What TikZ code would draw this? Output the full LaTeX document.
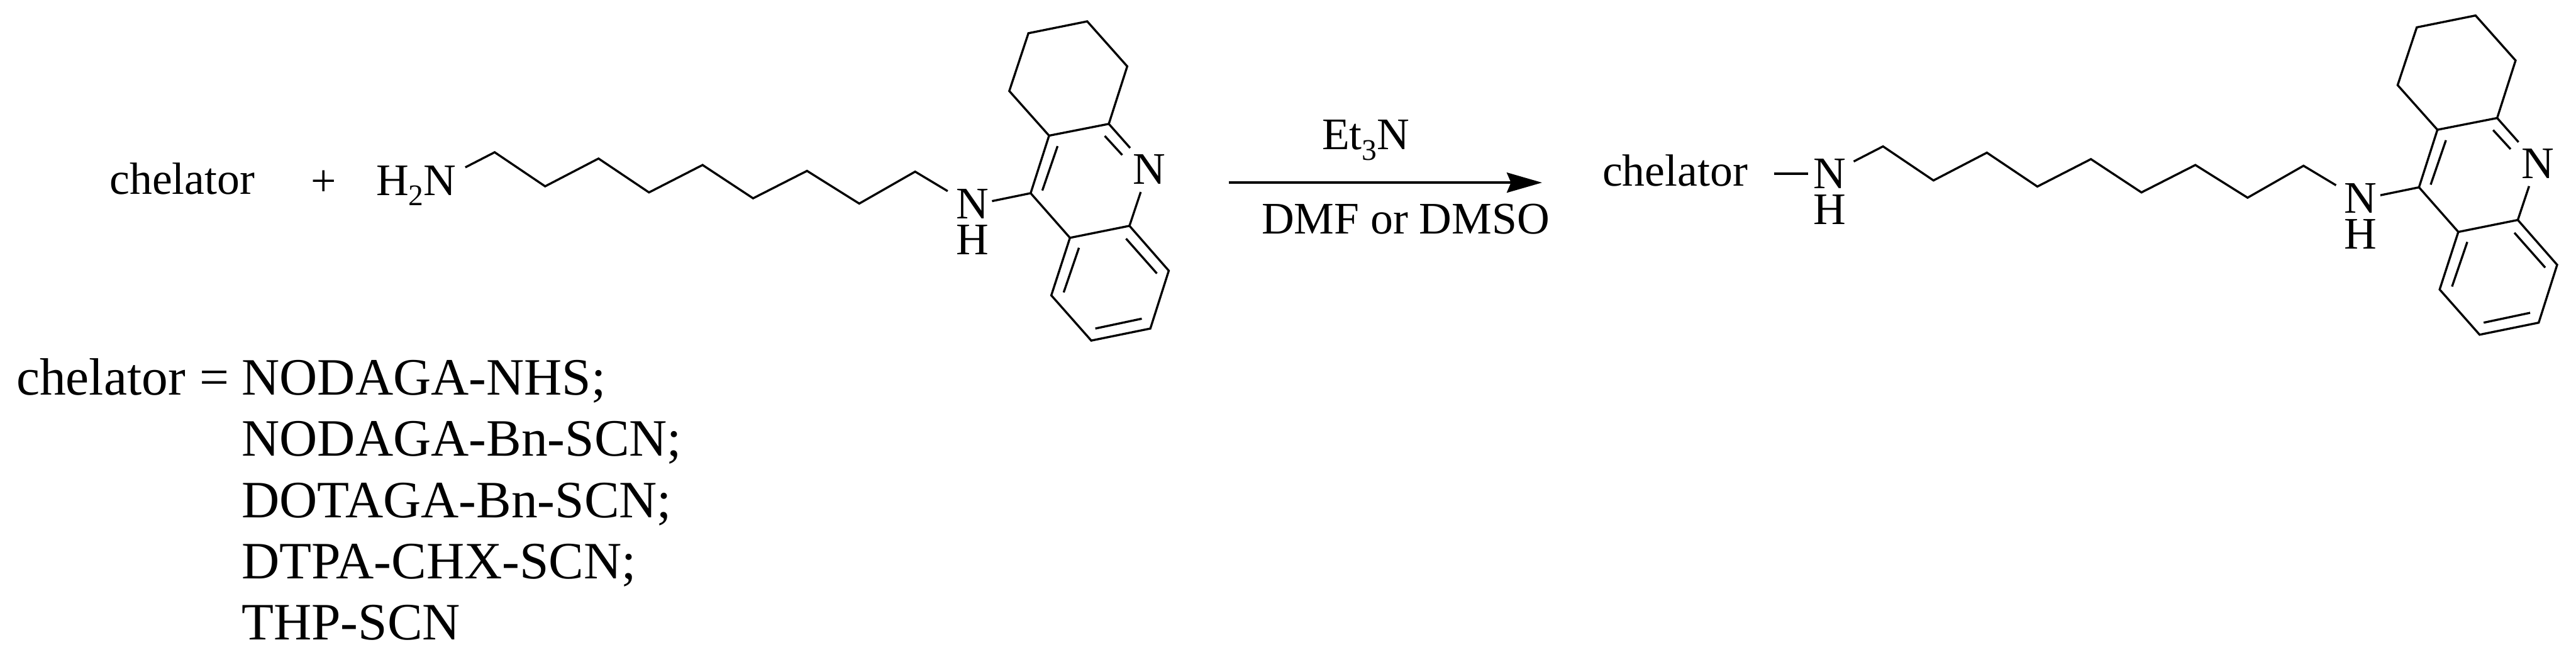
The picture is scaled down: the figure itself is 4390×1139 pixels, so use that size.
\documentclass[tikz,border=0pt]{standalone}
\usepackage{fontspec}
\setmainfont{Liberation Serif}
\usetikzlibrary{arrows.meta}
\newcommand{\lowidx}[1]{\raisebox{-8.75pt}{\fontsize{25.5}{25.5}\selectfont #1}}
\tikzset{
  bond/.style={line width=1.8pt,line join=miter,line cap=butt,black},
  rxn/.style={line width=2.4pt,black,-{Stealth[length=30pt,width=17pt,inset=3.5pt]}},
  lab/.style={inner sep=0pt,outer sep=0pt,anchor=base,font=\fontsize{38.4}{38.4}\selectfont},
  labw/.style={lab,anchor=base west},
  stack/.style={inner sep=0pt,outer sep=0pt,anchor=center,align=center,font=\fontsize{38.4}{30.5}\selectfont},
  big/.style={inner sep=0pt,outer sep=0pt,anchor=base west,font=\fontsize{44.7}{44.7}\selectfont},
  amine/.pic={
    % chain
    \coordinate (c0) at (793,285);
    \coordinate (p1) at (843,259.3);
    \coordinate (t1) at (929,317.3);
    \coordinate (p2) at (1020,270);
    \coordinate (t2) at (1106,327.7);
    \coordinate (p3) at (1197.3,281);
    \coordinate (t3) at (1283.4,337.7);
    \coordinate (p4) at (1375.3,291);
    \coordinate (t4) at (1464.3,346.7);
    \coordinate (p5) at (1559.6,292.3);
    \coordinate (c1) at (1615,325.5);
    % rings
    \coordinate (a) at (1752.6,56.6);
    \coordinate (b) at (1852.8,36.4);
    \coordinate (c) at (1921,113);
    \coordinate (d) at (1889.6,211);
    \coordinate (e) at (1787.8,231);
    \coordinate (f) at (1720,155);
    \coordinate (g) at (1756.4,329);
    \coordinate (h) at (1924.8,384.6);
    \coordinate (i) at (1823.4,405);
    \coordinate (j) at (1991.8,461);
    \coordinate (k) at (1960.4,559.5);
    \coordinate (l) at (1859.7,580);
    \coordinate (m) at (1791.6,503);
    % label-side bond ends
    \coordinate (gn) at (1690.6,342.5);
    \coordinate (dn) at (1926,252);
    \coordinate (hn) at (1944,327);
    % inner double-bond lines
    \coordinate (d1) at (1882.7,231.5);
    \coordinate (d2) at (1912.5,264);
    \coordinate (e1) at (1802.3,248.8);
    \coordinate (e2) at (1776.3,324.5);
    \coordinate (i1) at (1838.7,422);
    \coordinate (i2) at (1812.7,498);
    \coordinate (h1) at (1919,406.4);
    \coordinate (h2) at (1971.5,465.7);
    \coordinate (k1) at (1945.8,542.7);
    \coordinate (k2) at (1866.6,559.5);
    \node[stack] (nh) at (1657,378) {N\\H};
    \node[lab] (nr) at (1958.5,314) {N};
    \draw[bond] (c0) -- (p1) -- (t1) -- (p2) -- (t2) -- (p3) -- (t3) -- (p4) -- (t4) -- (p5) -- (c1);
    \draw[bond] (gn) -- (g) -- (e) -- (f) -- (a) -- (b) -- (c) -- (d) -- (e);
    \draw[bond] (d) -- (dn);
    \draw[bond] (hn) -- (h) -- (i) -- (g);
    \draw[bond] (h) -- (j) -- (k) -- (l) -- (m) -- (i);
    \draw[bond] (d1) -- (d2);
    \draw[bond] (e1) -- (e2);
    \draw[bond] (i1) -- (i2);
    \draw[bond] (h1) -- (h2);
    \draw[bond] (k1) -- (k2);
  }
}
\begin{document}
\begin{tikzpicture}[x=0.5pt,y=-0.5pt]
  \useasboundingbox (0,0) rectangle (4390,1139);
  % reactants
  \node[labw] (chelA) at (187,331) {chelator};
  \node[lab,anchor=center] (plus) at (552,312) {+};
  \node[labw] (amn) at (641,332.6) {H\lowidx{2}N};
  \pic (L) at (0,0) {amine};
  % arrow
  \coordinate (arrS) at (2094,311);
  \coordinate (arrE) at (2628,311);
  \draw[rxn] (arrS) -- (arrE);
  \node[labw] (et) at (2253,255) {Et\lowidx{3}N};
  \node[labw] (solv) at (2150,398) {DMF or DMSO};
  % product
  \node[labw] (chelB) at (2731,317) {chelator};
  \coordinate (dash1) at (3023,296);
  \coordinate (dash2) at (3081,296);
  \draw[bond] (dash1) -- (dash2);
  \node[stack] (pnh) at (3118,326.7) {N\\H};
  \pic (R) at (2366,-10) {amine};
  % list
  \node[big] (lst0) at (28,672.7) {chelator};
  \node[big] (eq) at (340,672.7) {=};
  \node[big] (lst1) at (412,672.7) {NODAGA-NHS;};
  \node[big] (lst2) at (412,776.8) {NODAGA-Bn-SCN;};
  \node[big] (lst3) at (412,881) {DOTAGA-Bn-SCN;};
  \node[big] (lst4) at (412,985) {DTPA-CHX-SCN;};
  \node[big] (lst5) at (412,1089) {THP-SCN};
\end{tikzpicture}
\end{document}
